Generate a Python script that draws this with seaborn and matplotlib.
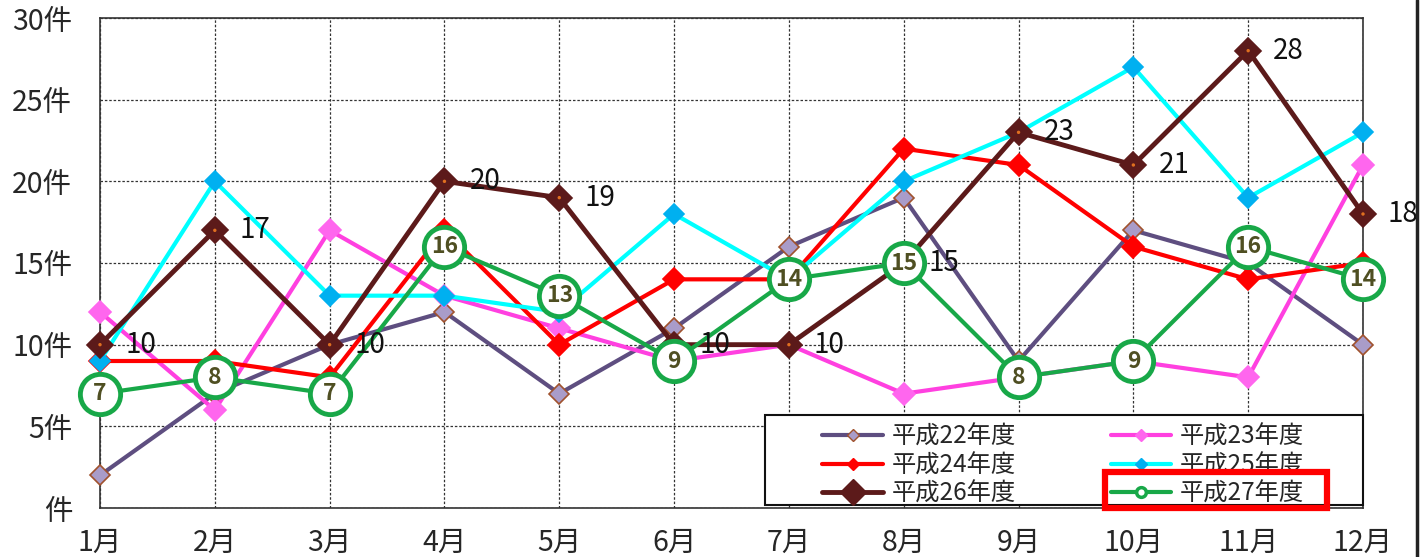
import pandas as pd
import matplotlib.pyplot as plt
import seaborn as sns
from matplotlib.patches import Rectangle
from matplotlib.lines import Line2D

months = ["1月", "2月", "3月", "4月", "5月", "6月", "7月", "8月", "9月", "10月", "11月", "12月"]
h22 = [2, 7, 10, 12, 7, 11, 16, 19, 9, 17, 15, 10]
h23 = [12, 6, 17, 13, 11, 9, 10, 7, 8, 9, 8, 21]
h24 = [9, 9, 8, 17, 10, 14, 14, 22, 21, 16, 14, 15]
h25 = [9, 20, 13, 13, 12, 18, 14, 20, 23, 27, 19, 23]
h26 = [10, 17, 10, 20, 19, 10, 10, 15, 23, 21, 28, 18]
h27 = [7, 8, 7, 16, 13, 9, 14, 15, 8, 9, 16, 14]
yticks = [0, 5, 10, 15, 20, 25, 30]
ytick_labels = ["件", "5件", "10件", "15件", "20件", "25件", "30件"]

sns.set_theme(style="white")
plt.rcParams["font.family"] = ["Noto Sans CJK JP", "DejaVu Sans"]

W, H = 1423, 557
fig = plt.figure(figsize=(W / 100, H / 100), dpi=100)
ax = fig.add_axes([100 / W, 49 / H, 1263 / W, 490 / H])

x = list(range(len(months)))

# each series: values, line colour, marker, marker size, face, edge, line width
series = [
    ("平成22年度", h22, "#5E4E80", "D", 10, "#A99CC9", "#A0522D", 3),
    ("平成23年度", h23, "#FF40E0", "D", 11, "#FF66EE", "#FF66EE", 3),
    ("平成24年度", h24, "#FF0000", "D", 11, "#FF0000", "#FF0000", 3),
    ("平成25年度", h25, "#00FFFF", "D", 10, "#00B0F0", "#00B0F0", 3),
    ("平成26年度", h26, "#5C1A1A", "D", 13, "#5C1A1A", "#5C1A1A", 3.5),
]
handles = {}
for i, (name, vals, col, mk, ms, fc, ec, lw) in enumerate(series):
    sns.lineplot(x=x, y=vals, ax=ax, color=col, lw=lw, marker=mk, markersize=ms,
                 markerfacecolor=fc, markeredgecolor=ec, markeredgewidth=1.2,
                 zorder=3 + i, clip_on=False)
    handles[name] = Line2D([], [], color=col, lw=lw, marker=mk,
                           markersize=13 if name == "平成26年度" else 6,
                           markerfacecolor=fc, markeredgecolor=ec)

# little orange centres on the 26 diamonds
sns.scatterplot(x=x, y=h26, ax=ax, color="#E07020", s=6, edgecolor="none", zorder=9,
                clip_on=False)

sns.lineplot(x=x, y=h27, ax=ax, color="#18A848", lw=3, marker="o", markersize=29,
             markerfacecolor="white", markeredgecolor="#18A848", markeredgewidth=3.5,
             zorder=10, clip_on=False)
handles["平成27年度"] = Line2D([], [], color="#18A848", lw=3, marker="o", markersize=7,
                            markerfacecolor="white", markeredgecolor="#18A848",
                            markeredgewidth=2.5)

for xi, v in zip(x, h27):
    ax.text(xi, v, str(v), ha="center", va="center", fontsize=16.5, fontweight="bold",
            color="#4F4F22", zorder=11)
for xi, v in zip(x, h26):
    ax.annotate(str(v), (xi, v), xytext=(18, 0), textcoords="offset points",
                ha="left", va="center", fontsize=20, color="#111111", zorder=12,
                annotation_clip=False)

ax.set_xlim(0, 11)
ax.set_ylim(0, 30)
ax.set_xticks(x)
ax.set_xticklabels(months, fontsize=20.5)
ax.set_yticks(yticks)
ax.set_yticklabels(ytick_labels, fontsize=20.5)
ax.tick_params(length=0)
ax.tick_params(axis="x", pad=14)
ax.tick_params(axis="y", pad=20)
ax.grid(True, color="#333333", linestyle=(0, (2, 1.5)), lw=0.9)
for s in ax.spines.values():
    s.set_color("#333333")
    s.set_linewidth(1.2)
ax.set_xlabel("")
ax.set_ylabel("")

# legend frame drawn by hand so the entries can sit where they are in the original
fig.patches.append(Rectangle((765 / W, (H - 505) / H), 598 / W, 90 / H,
                             transform=fig.transFigure, facecolor="white",
                             edgecolor="#111111", lw=1.5, zorder=19))
order = ["平成22年度", "平成24年度", "平成26年度", "平成23年度", "平成25年度", "平成27年度"]
leg = ax.legend([handles[k] for k in order], order, ncol=2, loc="lower left",
                bbox_to_anchor=(815 / W, (H - 514) / H), bbox_transform=fig.transFigure,
                fontsize=17.5, frameon=False, borderaxespad=0, borderpad=0.3,
                handlelength=2.5, labelspacing=0.1, columnspacing=3.9,
                handletextpad=0.35)
leg.set_zorder(20)
fig.artists.append(leg)

# red box around the current year's legend entry
fig.patches.append(Rectangle((1105 / W, (H - 508) / H), 222 / W, 36 / H,
                             transform=fig.transFigure, fill=False,
                             edgecolor="#FF0000", lw=4.5, zorder=30))
fig.lines.append(Line2D([1417 / W, 1417 / W], [0, 1], transform=fig.transFigure,
                        color="#222222", lw=2.5))

fig.savefig("out.png", dpi=100)
